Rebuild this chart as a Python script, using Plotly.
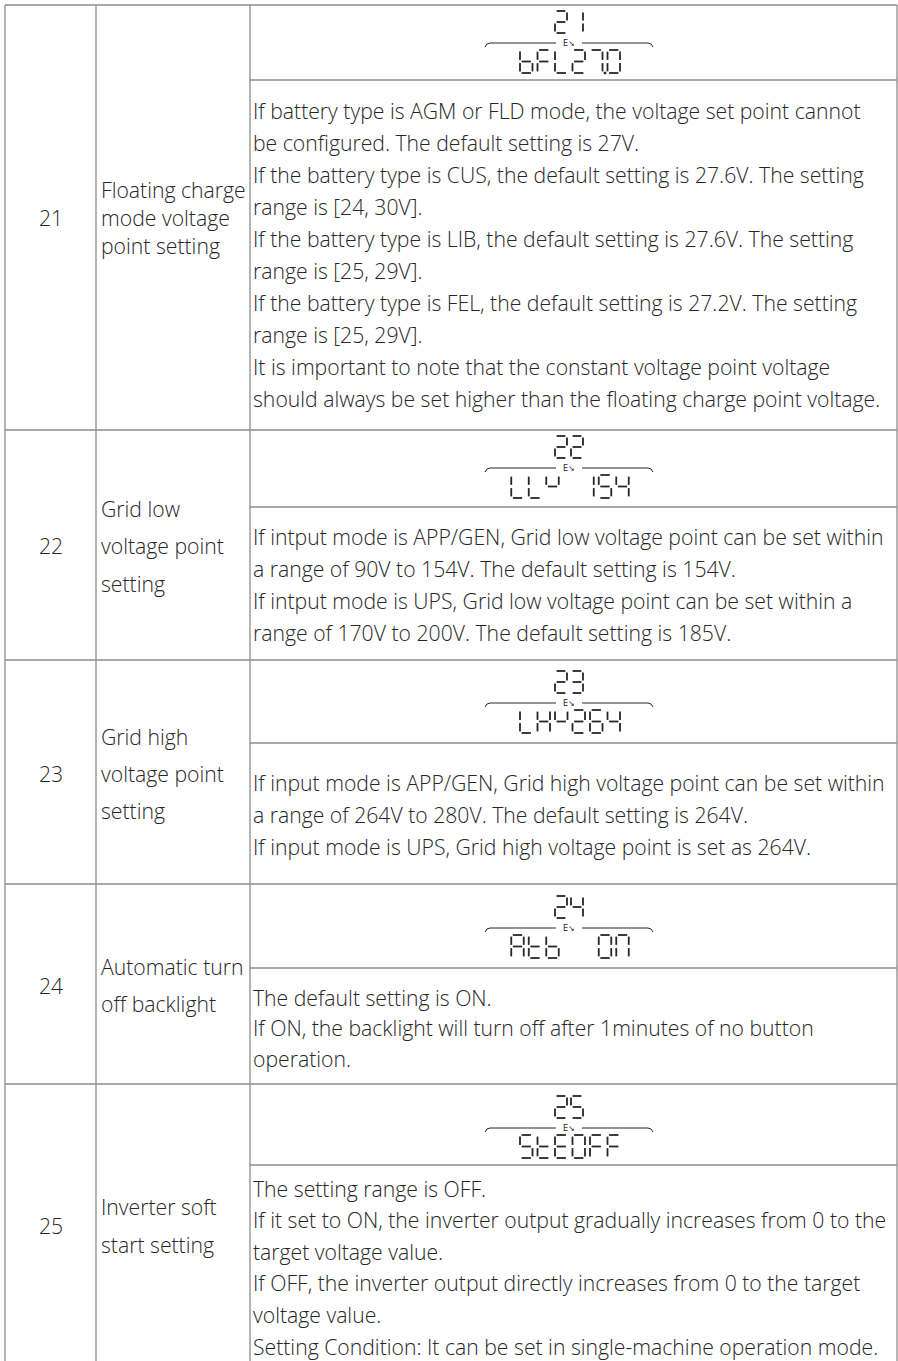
import plotly.graph_objects as go

# ---- table content ----
setting_ids = ["21", "22", "23", "24", "25"]

setting_names = [
    ["Floating charge", "mode voltage", "point setting"],
    ["Grid low", "voltage point", "setting"],
    ["Grid high", "voltage point", "setting"],
    ["Automatic turn", "off backlight"],
    ["Inverter soft", "start setting"],
]

# what the LCD shows on its lower line ('u' = raised u, '.' = decimal point)
lcd_codes = ["bFL27.0", "LLu 154", "LHu264", "Atb  ON", "StEOFF"]

descriptions = [
    ["If battery type is AGM or FLD mode, the voltage set point cannot",
     "be configured. The default setting is 27V.",
     "If the battery type is CUS, the default setting is 27.6V. The setting",
     "range is [24, 30V].",
     "If the battery type is LIB, the default setting is 27.6V. The setting",
     "range is [25, 29V].",
     "If the battery type is FEL, the default setting is 27.2V. The setting",
     "range is [25, 29V].",
     "It is important to note that the constant voltage point voltage",
     "should always be set higher than the floating charge point voltage."],
    ["If intput mode is APP/GEN, Grid low voltage point can be set within",
     "a range of 90V to 154V. The default setting is 154V.",
     "If intput mode is UPS, Grid low voltage point can be set within a",
     "range of 170V to 200V. The default setting is 185V."],
    ["If input mode is APP/GEN, Grid high voltage point can be set within",
     "a range of 264V to 280V. The default setting is 264V.",
     "If input mode is UPS, Grid high voltage point is set as 264V."],
    ["The default setting is ON.",
     "If ON, the backlight will turn off after 1minutes of no button",
     "operation."],
    ["The setting range is OFF.",
     "If it set to ON, the inverter output gradually increases from 0 to the",
     "target voltage value.",
     "If OFF, the inverter output directly increases from 0 to the target",
     "voltage value.",
     "Setting Condition: It can be set in single-machine operation mode."],
]

# ---- page geometry (pixels, y down) ----
W, H = 898, 1361
col_x = [5, 96, 250, 897]
row_top = [5, 430, 660, 884, 1084]
table_bottom = 1400
lcd_rule_y = [43, 468, 703, 928, 1128]
panel_split_y = [80, 507, 743, 968, 1165]
desc_y0 = [110, 536, 782, 997, 1188]
desc_step = [32, 32, 32, 30.5, 31.6]
name_y0 = [189.5, 508, 736, 966, 1206]
name_step = [28, 37.5, 37, 37, 38]
num_y = [217, 545, 773, 985, 1225]

LINE = "#8c8c8c"
INK = "#262626"
FONT = "Open Sans"
FSIZE = 21.2
LCD_CX = 569

# 7-segment glyphs
SEGS = {
    "0": "abcdef", "1": "bc", "2": "abged", "3": "abgcd", "4": "fgbc",
    "5": "afgcd", "6": "afgedc", "7": "abc", "8": "abcdefg", "9": "abcdfg",
    "b": "fedcg", "F": "afeg", "L": "fed", "H": "fbgec", "u": "fgb",
    "A": "abcefg", "t": "fged", "O": "abcdef", "N": "abcef", "E": "afged",
    "S": "afgcd", " ": "",
}


def seg_xy(key, x0, y0, w, h, gap=1.6):
    ym = y0 + h / 2
    ends = {
        "a": ((x0 + gap, y0), (x0 + w - gap, y0)),
        "b": ((x0 + w, y0 + gap), (x0 + w, ym - gap)),
        "c": ((x0 + w, ym + gap), (x0 + w, y0 + h - gap)),
        "d": ((x0 + gap, y0 + h), (x0 + w - gap, y0 + h)),
        "e": ((x0, ym + gap), (x0, y0 + h - gap)),
        "f": ((x0, y0 + gap), (x0, ym - gap)),
        "g": ((x0 + gap, ym), (x0 + w - gap, ym)),
    }
    return ends[key]


def lcd_text(text, cx, cy, pitch, w, h):
    xs, ys, dx, dy = [], [], [], []
    cells = [c for c in text if c != "."]
    left = cx - (len(cells) * pitch - (pitch - w)) / 2
    i = 0
    for ch in text:
        if ch == ".":
            dx.append(left + (i - 1) * pitch + w + (pitch - w) / 2)
            dy.append(cy + h / 2)
            continue
        x0 = left + i * pitch
        for k in SEGS[ch]:
            (xa, ya), (xb, yb) = seg_xy(k, x0, cy - h / 2, w, h)
            xs += [xa, xb, None]
            ys += [ya, yb, None]
        i += 1
    return xs, ys, dx, dy


def label(x, y, text, anchor="left", size=FSIZE, family=FONT, weight=300):
    return dict(x=x, y=y, text=text, xanchor=anchor, yanchor="middle",
                showarrow=False, borderpad=0,
                font=dict(size=size, color=INK, family=family, weight=weight))


fig = go.Figure()

# ---- grid lines ----
shapes = []
for x in col_x:
    shapes.append(dict(type="line", x0=x, x1=x, y0=row_top[0], y1=table_bottom))
for y in row_top:
    shapes.append(dict(type="line", x0=col_x[0], x1=col_x[-1], y0=y, y1=y))
for y in panel_split_y:
    shapes.append(dict(type="line", x0=col_x[2], x1=col_x[-1], y0=y, y1=y))
for s in shapes:
    s.update(xref="x", yref="y", line=dict(color=LINE, width=1.3))

annotations = []
seg_x, seg_y, dot_x, dot_y = [], [], [], []
rule_x, rule_y = [], []

for r, sid in enumerate(setting_ids):
    annotations.append(label((col_x[0] + col_x[1]) / 2, num_y[r], sid, "center"))
    for j, line in enumerate(setting_names[r]):
        annotations.append(label(col_x[1] + 4, name_y0[r] + j * name_step[r], line))
    for j, line in enumerate(descriptions[r]):
        annotations.append(label(col_x[2] + 2, desc_y0[r] + j * desc_step[r], line))

    # LCD screen: code number on top, rule with icon, value below
    ry = lcd_rule_y[r]
    xs, ys, dx, dy = lcd_text(sid, LCD_CX, ry - 21, 16, 12, 22)
    seg_x += xs; seg_y += ys; dot_x += dx; dot_y += dy
    xs, ys, dx, dy = lcd_text(lcd_codes[r], LCD_CX + 1, ry + 18.5, 17.5, 12.5, 23)
    seg_x += xs; seg_y += ys; dot_x += dx; dot_y += dy

    half, notch = 84, 13
    rule_x += [LCD_CX - half, LCD_CX - half + 2, LCD_CX - half + 5, LCD_CX - notch, None,
               LCD_CX + notch, LCD_CX + half - 5, LCD_CX + half - 2, LCD_CX + half, None]
    rule_y += [ry + 4, ry + 1, ry, ry, None, ry, ry, ry + 1, ry + 4, None]
    annotations.append(label(LCD_CX, ry, "E↘", "center", 8, "DejaVu Sans", 400))

fig.add_trace(go.Scatter(x=seg_x, y=seg_y, mode="lines", hoverinfo="skip",
                         line=dict(color=INK, width=1.8)))
fig.add_trace(go.Scatter(x=rule_x, y=rule_y, mode="lines", hoverinfo="skip",
                         line=dict(color=INK, width=1)))
fig.add_trace(go.Scatter(x=dot_x, y=dot_y, mode="markers", hoverinfo="skip",
                         marker=dict(color=INK, size=2.5, symbol="square")))

fig.update_layout(
    width=W, height=H, margin=dict(l=0, r=0, t=0, b=0),
    paper_bgcolor="white", plot_bgcolor="white", showlegend=False,
    shapes=shapes, annotations=annotations,
    xaxis=dict(range=[0, W], visible=False, fixedrange=True),
    yaxis=dict(range=[H, 0], visible=False, fixedrange=True),
)

# drop the default page margin so the figure fills the window exactly
fig.write_html("out.html", config={"displayModeBar": False},
               post_script="document.body.style.margin='0';")
